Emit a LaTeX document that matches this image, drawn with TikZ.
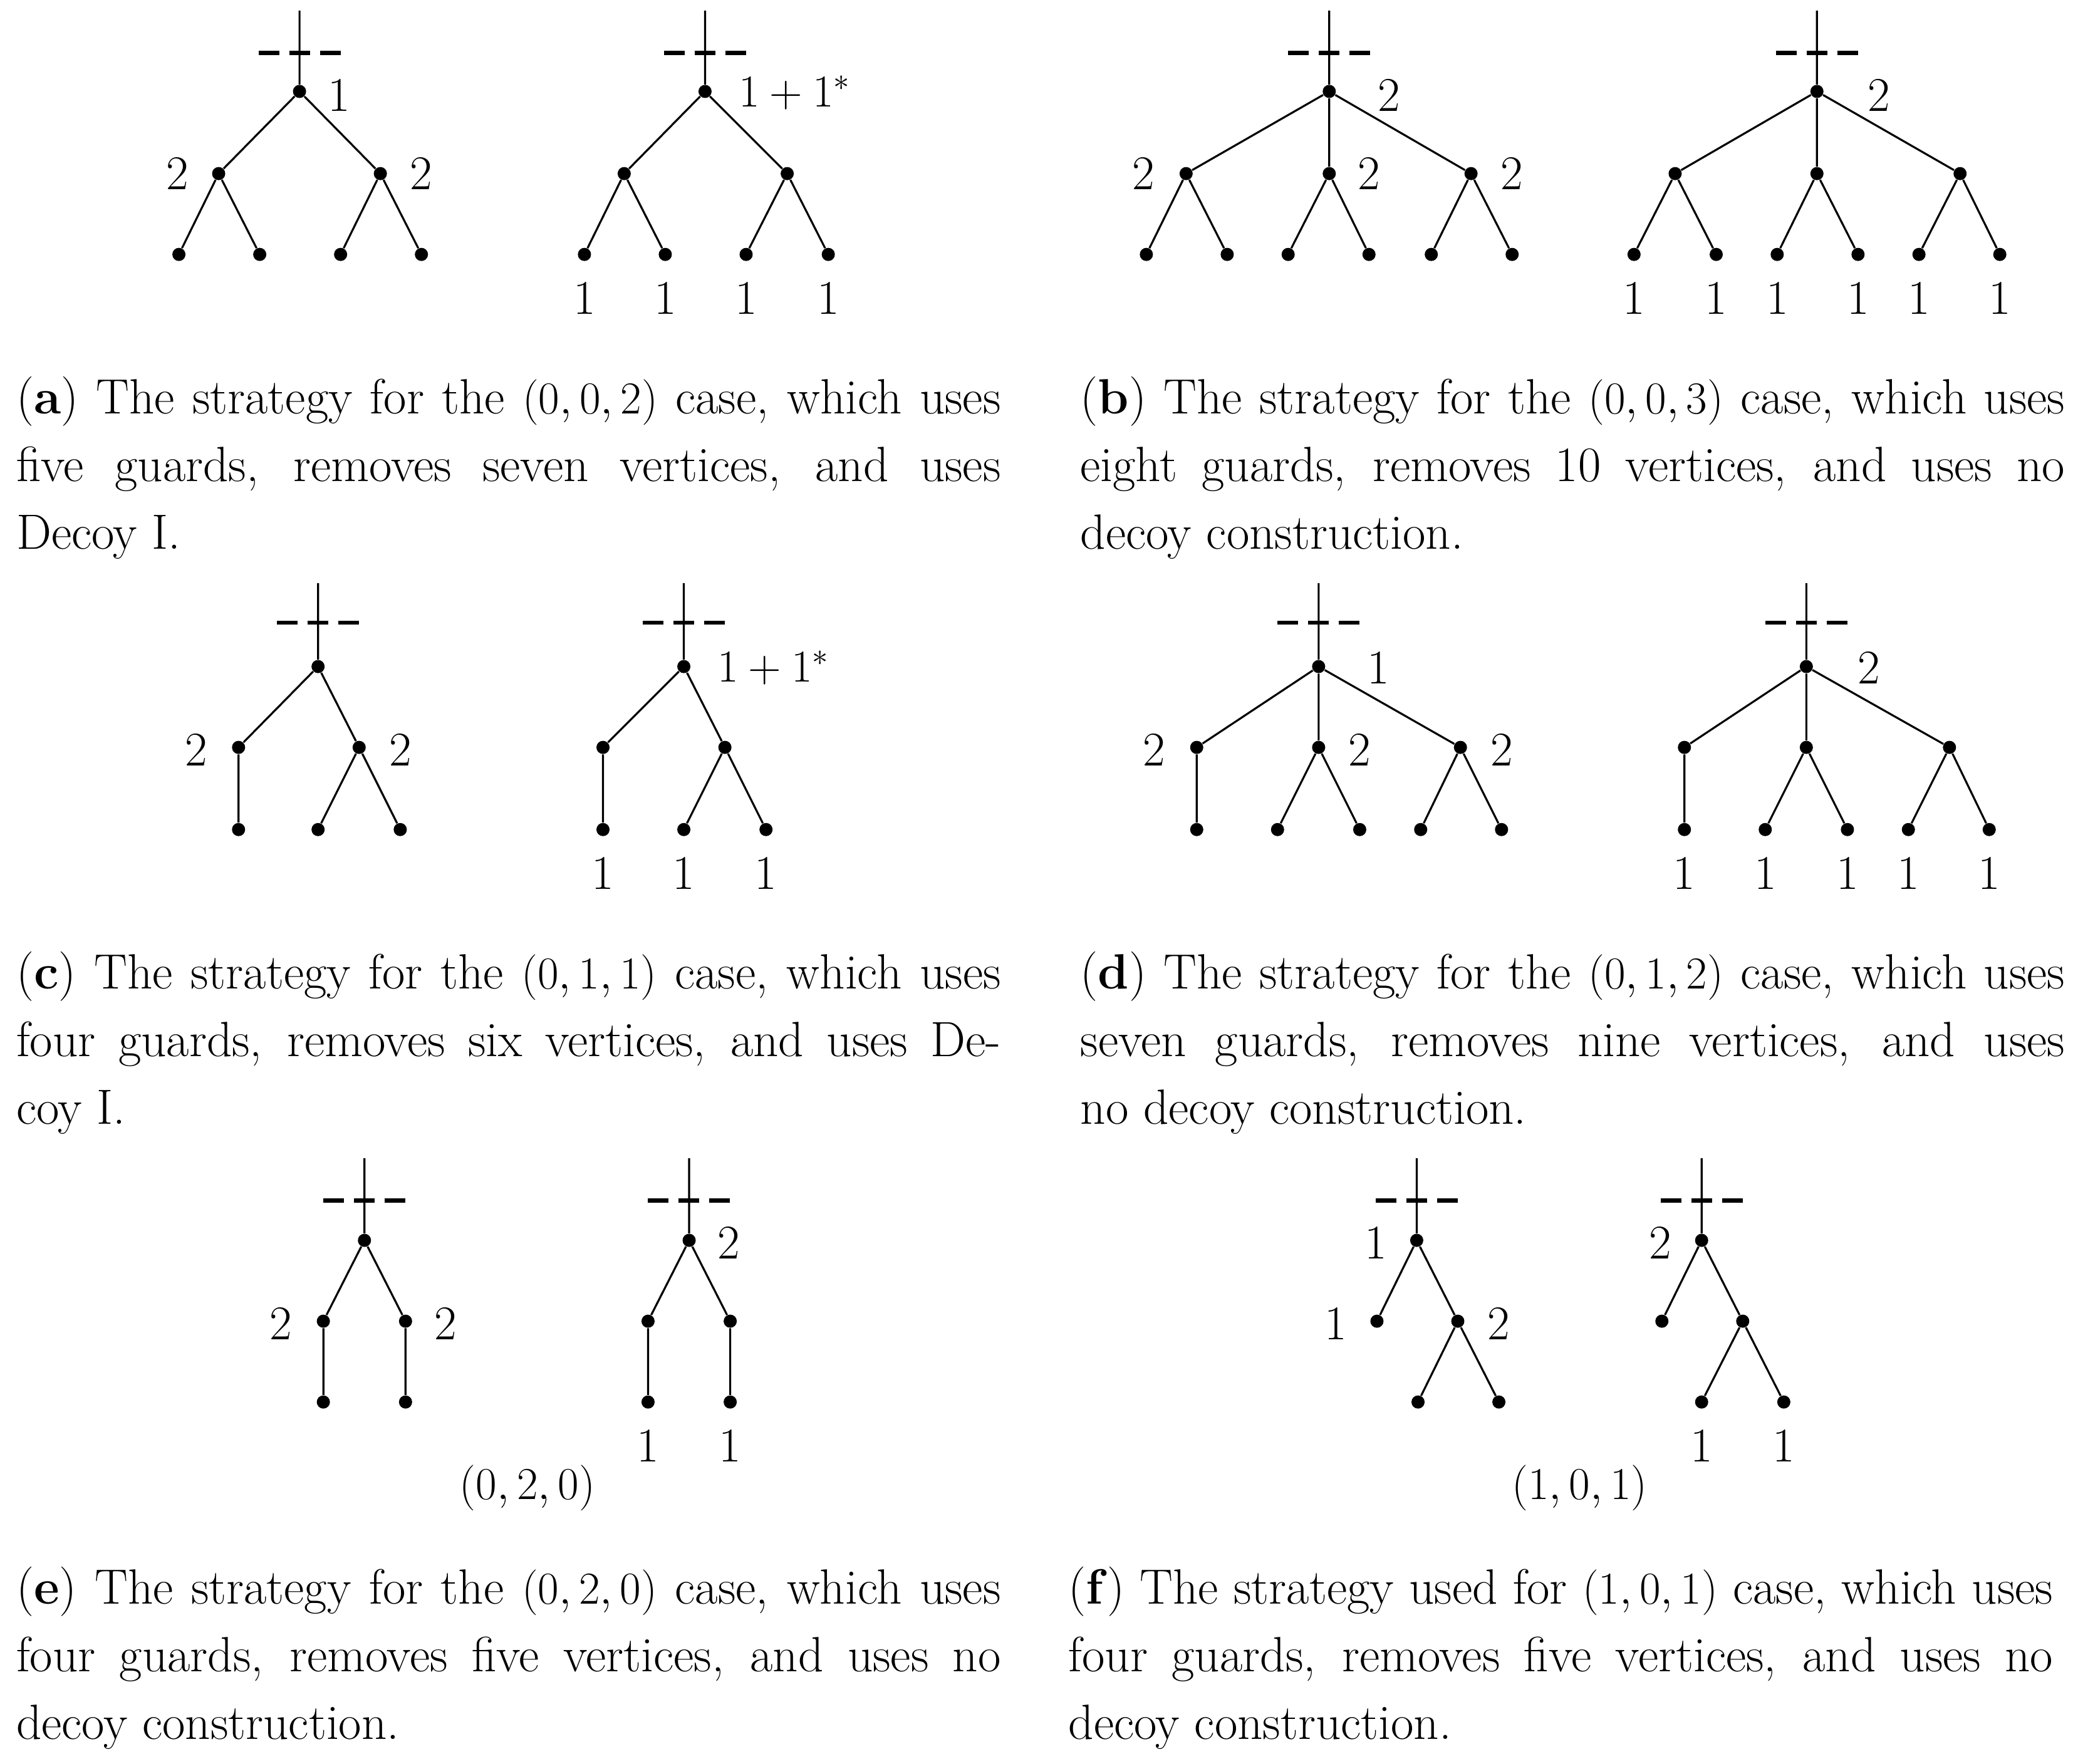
\documentclass[tikz,border=0pt]{standalone}
\begin{document}
\begin{tikzpicture}[x=0.02115cm,y=-0.02115cm,
  dot/.style={circle,fill,inner sep=0pt,minimum size=0.21cm},
  edge/.style={line width=0.9pt},
  dsh/.style={line width=1.8pt,dash pattern=on 0.33cm off 0.16cm},
  lbl/.style={inner sep=0pt,font=\fontsize{22}{26}\selectfont},
  capt/.style={inner sep=0pt,anchor=north west,text width=15.71cm,align=justify,font=\fontsize{22.5}{30.7}\selectfont}]
\useasboundingbox (0,0) rectangle (1568,1331);
% ---------- (a) left
\node[dot] (ar) at (226,69) {};
\coordinate (art) at (226,8);
\node[dot] (ac1) at (165,131) {}; \node[dot] (ac2) at (287,131) {};
\node[dot] (al1) at (135,192) {}; \node[dot] (al2) at (196,192) {};
\node[dot] (al3) at (257,192) {}; \node[dot] (al4) at (318,192) {};
\draw[edge] (art)--(ar) (ar)--(ac1) (ar)--(ac2) (ac1)--(al1) (ac1)--(al2) (ac2)--(al3) (ac2)--(al4);
\coordinate (ad1) at (195,40); \coordinate (ad2) at (257,40);
\draw[dsh] (ad1)--(ad2);
\node[lbl] (alr) at (256,72) {1}; \node[lbl] (alc1) at (134,131) {2}; \node[lbl] (alc2) at (318,131) {2};
% ---------- (a) right
\node[dot] (br) at (532,69) {};
\coordinate (brt) at (532,8);
\node[dot] (bc1) at (471,131) {}; \node[dot] (bc2) at (594,131) {};
\node[dot] (bl1) at (441,192) {}; \node[dot] (bl2) at (502,192) {};
\node[dot] (bl3) at (563,192) {}; \node[dot] (bl4) at (625,192) {};
\draw[edge] (brt)--(br) (br)--(bc1) (br)--(bc2) (bc1)--(bl1) (bc1)--(bl2) (bc2)--(bl3) (bc2)--(bl4);
\coordinate (bd1) at (501,40); \coordinate (bd2) at (563,40);
\draw[dsh] (bd1)--(bd2);
\node[lbl,anchor=west] (blr) at (557,70) {$1+1^*$};
\foreach \x/\n in {441/1,502/2,563/3,625/4} \node[lbl] (bll\n) at (\x,225) {1};
% ---------- (b) left
\node[dot] (cr) at (1003,69) {};
\coordinate (crt) at (1003,8);
\node[dot] (cc1) at (895,131) {}; \node[dot] (cc2) at (1003,131) {}; \node[dot] (cc3) at (1110,131) {};
\node[dot] (cl1) at (865,192) {}; \node[dot] (cl2) at (926,192) {};
\node[dot] (cl3) at (972,192) {}; \node[dot] (cl4) at (1033,192) {};
\node[dot] (cl5) at (1080,192) {}; \node[dot] (cl6) at (1141,192) {};
\draw[edge] (crt)--(cr) (cr)--(cc1) (cr)--(cc2) (cr)--(cc3) (cc1)--(cl1) (cc1)--(cl2) (cc2)--(cl3) (cc2)--(cl4) (cc3)--(cl5) (cc3)--(cl6);
\coordinate (cd1) at (972,40); \coordinate (cd2) at (1034,40);
\draw[dsh] (cd1)--(cd2);
\node[lbl] (clr) at (1048,72) {2}; \node[lbl] (clc1) at (863,131) {2};
\node[lbl] (clc2) at (1033,131) {2}; \node[lbl] (clc3) at (1141,131) {2};
% ---------- (b) right
\node[dot] (dr) at (1371,69) {};
\coordinate (drt) at (1371,8);
\node[dot] (dc1) at (1264,131) {}; \node[dot] (dc2) at (1371,131) {}; \node[dot] (dc3) at (1479,131) {};
\node[dot] (dl1) at (1233,192) {}; \node[dot] (dl2) at (1295,192) {};
\node[dot] (dl3) at (1341,192) {}; \node[dot] (dl4) at (1402,192) {};
\node[dot] (dl5) at (1448,192) {}; \node[dot] (dl6) at (1509,192) {};
\draw[edge] (drt)--(dr) (dr)--(dc1) (dr)--(dc2) (dr)--(dc3) (dc1)--(dl1) (dc1)--(dl2) (dc2)--(dl3) (dc2)--(dl4) (dc3)--(dl5) (dc3)--(dl6);
\coordinate (dd1) at (1340,40); \coordinate (dd2) at (1402,40);
\draw[dsh] (dd1)--(dd2);
\node[lbl] (dlr) at (1418,72) {2};
\foreach \x/\n in {1233/1,1295/2,1341/3,1402/4,1448/5,1509/6} \node[lbl] (dll\n) at (\x,225) {1};
% captions row 1
\node[capt] (capa) at (12,284) {(\textbf{a}) The strategy for the $(0,0,2)$ case, which uses\linebreak five guards, removes seven vertices, and uses\linebreak Decoy I.};
\node[capt] (capb) at (815,284) {(\textbf{b}) The strategy for the $(0,0,3)$ case, which uses\linebreak eight guards, removes 10 vertices, and uses no\linebreak decoy construction.};
% ---------- (c) left
\node[dot] (er) at (240,503) {};
\coordinate (ert) at (240,440);
\node[dot] (ec1) at (180,564) {}; \node[dot] (ec2) at (271,564) {};
\node[dot] (el1) at (180,626) {}; \node[dot] (el2) at (240,626) {}; \node[dot] (el3) at (302,626) {};
\draw[edge] (ert)--(er) (er)--(ec1) (er)--(ec2) (ec1)--(el1) (ec2)--(el2) (ec2)--(el3);
\coordinate (ed1) at (209,470); \coordinate (ed2) at (271,470);
\draw[dsh] (ed1)--(ed2);
\node[lbl] (elc1) at (148,566) {2}; \node[lbl] (elc2) at (302,566) {2};
% ---------- (c) right
\node[dot] (fr) at (516,503) {};
\coordinate (frt) at (516,440);
\node[dot] (fc1) at (455,564) {}; \node[dot] (fc2) at (547,564) {};
\node[dot] (fl1) at (455,626) {}; \node[dot] (fl2) at (516,626) {}; \node[dot] (fl3) at (578,626) {};
\draw[edge] (frt)--(fr) (fr)--(fc1) (fr)--(fc2) (fc1)--(fl1) (fc2)--(fl2) (fc2)--(fl3);
\coordinate (fd1) at (485,470); \coordinate (fd2) at (547,470);
\draw[dsh] (fd1)--(fd2);
\node[lbl,anchor=west] (flr) at (541,504) {$1+1^*$};
\foreach \x/\n in {455/1,516/2,578/3} \node[lbl] (fll\n) at (\x,659) {1};
% ---------- (d) left
\node[dot] (gr) at (995,503) {};
\coordinate (grt) at (995,440);
\node[dot] (gc1) at (903,564) {}; \node[dot] (gc2) at (995,564) {}; \node[dot] (gc3) at (1102,564) {};
\node[dot] (gl1) at (903,626) {}; \node[dot] (gl2) at (964,626) {}; \node[dot] (gl3) at (1026,626) {};
\node[dot] (gl4) at (1072,626) {}; \node[dot] (gl5) at (1133,626) {};
\draw[edge] (grt)--(gr) (gr)--(gc1) (gr)--(gc2) (gr)--(gc3) (gc1)--(gl1) (gc2)--(gl2) (gc2)--(gl3) (gc3)--(gl4) (gc3)--(gl5);
\coordinate (gd1) at (964,470); \coordinate (gd2) at (1026,470);
\draw[dsh] (gd1)--(gd2);
\node[lbl] (glr) at (1040,504) {1}; \node[lbl] (glc1) at (871,566) {2};
\node[lbl] (glc2) at (1026,566) {2}; \node[lbl] (glc3) at (1133,566) {2};
% ---------- (d) right
\node[dot] (hr) at (1363,503) {};
\coordinate (hrt) at (1363,440);
\node[dot] (hc1) at (1271,564) {}; \node[dot] (hc2) at (1363,564) {}; \node[dot] (hc3) at (1471,564) {};
\node[dot] (hl1) at (1271,626) {}; \node[dot] (hl2) at (1332,626) {}; \node[dot] (hl3) at (1394,626) {};
\node[dot] (hl4) at (1440,626) {}; \node[dot] (hl5) at (1501,626) {};
\draw[edge] (hrt)--(hr) (hr)--(hc1) (hr)--(hc2) (hr)--(hc3) (hc1)--(hl1) (hc2)--(hl2) (hc2)--(hl3) (hc3)--(hl4) (hc3)--(hl5);
\coordinate (hd1) at (1332,470); \coordinate (hd2) at (1394,470);
\draw[dsh] (hd1)--(hd2);
\node[lbl] (hlr) at (1410,504) {2};
\foreach \x/\n in {1271/1,1332/2,1394/3,1440/4,1501/5} \node[lbl] (hll\n) at (\x,659) {1};
% captions row 2
\node[capt] (capc) at (12,718) {(\textbf{c}) The strategy for the $(0,1,1)$ case, which uses\linebreak four guards, removes six vertices, and uses De-\linebreak coy I.};
\node[capt] (capd) at (815,718) {(\textbf{d}) The strategy for the $(0,1,2)$ case, which uses\linebreak seven guards, removes nine vertices, and uses\linebreak no decoy construction.};
% ---------- (e) left
\node[dot] (ir) at (275,936) {};
\coordinate (irt) at (275,874);
\node[dot] (ic1) at (244,997) {}; \node[dot] (ic2) at (306,997) {};
\node[dot] (il1) at (244,1058) {}; \node[dot] (il2) at (306,1058) {};
\draw[edge] (irt)--(ir) (ir)--(ic1) (ir)--(ic2) (ic1)--(il1) (ic2)--(il2);
\coordinate (id1) at (244,906); \coordinate (id2) at (306,906);
\draw[dsh] (id1)--(id2);
\node[lbl] (ilc1) at (212,999) {2}; \node[lbl] (ilc2) at (336,999) {2};
% ---------- (e) right
\node[dot] (jr) at (520,936) {};
\coordinate (jrt) at (520,874);
\node[dot] (jc1) at (489,997) {}; \node[dot] (jc2) at (551,997) {};
\node[dot] (jl1) at (489,1058) {}; \node[dot] (jl2) at (551,1058) {};
\draw[edge] (jrt)--(jr) (jr)--(jc1) (jr)--(jc2) (jc1)--(jl1) (jc2)--(jl2);
\coordinate (jd1) at (489,906); \coordinate (jd2) at (551,906);
\draw[dsh] (jd1)--(jd2);
\node[lbl] (jlr) at (550,938) {2};
\node[lbl] (jll1) at (489,1091) {1}; \node[lbl] (jll2) at (551,1091) {1};
\node[lbl] (etag) at (398,1123) {$(0,2,0)$};
% ---------- (f) left
\node[dot] (kr) at (1069,936) {};
\coordinate (krt) at (1069,874);
\node[dot] (kc1) at (1039,997) {}; \node[dot] (kc2) at (1100,997) {};
\node[dot] (kl1) at (1070,1058) {}; \node[dot] (kl2) at (1131,1058) {};
\draw[edge] (krt)--(kr) (kr)--(kc1) (kr)--(kc2) (kc2)--(kl1) (kc2)--(kl2);
\coordinate (kd1) at (1038,906); \coordinate (kd2) at (1100,906);
\draw[dsh] (kd1)--(kd2);
\node[lbl] (klr) at (1038,938) {1}; \node[lbl] (klc1) at (1008,999) {1}; \node[lbl] (klc2) at (1131,999) {2};
% ---------- (f) right
\node[dot] (lr) at (1284,936) {};
\coordinate (lrt) at (1284,874);
\node[dot] (lc1) at (1254,997) {}; \node[dot] (lc2) at (1315,997) {};
\node[dot] (ll1) at (1284,1058) {}; \node[dot] (ll2) at (1346,1058) {};
\draw[edge] (lrt)--(lr) (lr)--(lc1) (lr)--(lc2) (lc2)--(ll1) (lc2)--(ll2);
\coordinate (ld1) at (1253,906); \coordinate (ld2) at (1315,906);
\draw[dsh] (ld1)--(ld2);
\node[lbl] (llr) at (1253,938) {2};
\node[lbl] (lll1) at (1284,1091) {1}; \node[lbl] (lll2) at (1346,1091) {1};
\node[lbl] (ftag) at (1192,1123) {$(1,0,1)$};
% captions row 3
\node[capt] (cape) at (12,1182) {(\textbf{e}) The strategy for the $(0,2,0)$ case, which uses\linebreak four guards, removes five vertices, and uses no\linebreak decoy construction.};
\node[capt] (capf) at (806,1182) {(\textbf{f}) The strategy used for $(1,0,1)$ case, which uses\linebreak four guards, removes five vertices, and uses no\linebreak decoy construction.};
\end{tikzpicture}
\end{document}
